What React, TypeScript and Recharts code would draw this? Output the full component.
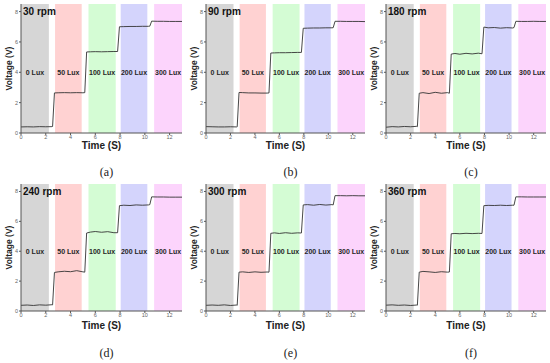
import { ComposedChart, Line, XAxis, YAxis, ReferenceArea } from 'recharts';

// sample times (s) shared by all six traces
const timeS = [
  0, 0.5, 1, 1.5, 2, 2.5, 2.55,
  2.7, 3, 3.5, 4, 4.5, 5, 5.15,
  5.3, 5.6, 6, 6.5, 7, 7.5, 7.8,
  7.95, 8.3, 8.8, 9.3, 9.8, 10.3, 10.4,
  10.55, 11, 11.5, 12, 12.5, 13,
];

// voltage traces, one per rotation speed
const v30 = [
  0.4, 0.41, 0.4, 0.42, 0.41, 0.42, 0.43,
  2.64, 2.65, 2.66, 2.65, 2.66, 2.65, 2.66,
  5.34, 5.35, 5.36, 5.35, 5.36, 5.37, 5.37,
  7.0, 7.01, 7.02, 7.02, 7.03, 7.03, 7.04,
  7.37, 7.36, 7.36, 7.35, 7.35, 7.35,
];
const v90 = [
  0.42, 0.41, 0.4, 0.4, 0.41, 0.4, 0.41,
  2.67, 2.66, 2.64, 2.64, 2.63, 2.63, 2.64,
  5.27, 5.28, 5.29, 5.29, 5.3, 5.31, 5.31,
  6.9, 6.91, 6.92, 6.92, 6.93, 6.93, 6.94,
  7.36, 7.36, 7.35, 7.35, 7.35, 7.34,
];
const v180 = [
  0.38, 0.42, 0.4, 0.43, 0.41, 0.44, 0.42,
  2.62, 2.66, 2.6, 2.68, 2.62, 2.66, 2.62,
  5.2, 5.24, 5.19, 5.25, 5.21, 5.26, 5.22,
  6.98, 6.93, 6.95, 6.91, 6.94, 6.92, 6.95,
  7.36, 7.35, 7.35, 7.36, 7.35, 7.35,
];
const v240 = [
  0.38, 0.4, 0.37, 0.41, 0.39, 0.42, 0.41,
  2.58, 2.62, 2.66, 2.63, 2.7, 2.62, 2.6,
  5.22, 5.28, 5.32, 5.27, 5.31, 5.24, 5.24,
  7.05, 7.08, 7.06, 7.1, 7.08, 7.1, 7.12,
  7.64, 7.63, 7.63, 7.62, 7.62, 7.62,
];
const v300 = [
  0.38, 0.4, 0.38, 0.41, 0.37, 0.4, 0.38,
  2.6, 2.62, 2.58, 2.62, 2.59, 2.61, 2.6,
  5.2, 5.23, 5.19, 5.24, 5.2, 5.23, 5.22,
  7.1, 7.12, 7.08, 7.13, 7.09, 7.12, 7.1,
  7.72, 7.72, 7.71, 7.72, 7.71, 7.71,
];
const v360 = [
  0.39, 0.41, 0.38, 0.4, 0.37, 0.4, 0.39,
  2.6, 2.65, 2.62, 2.58, 2.63, 2.6, 2.61,
  5.17, 5.19, 5.17, 5.2, 5.18, 5.2, 5.19,
  7.05, 7.07, 7.06, 7.08, 7.06, 7.08, 7.08,
  7.64, 7.64, 7.63, 7.63, 7.63, 7.63,
];

// illumination windows
const bandStart = [0, 2.75, 5.45, 8.05, 10.75];
const bandEnd = [2.25, 4.9, 7.65, 10.2, 13];
const bandLabels = ['0 Lux', '50 Lux', '100 Lux', '200 Lux', '300 Lux'];
const bandColors = ['#d6d6d6', '#ffd2d2', '#d4fcd4', '#d4d4fc', '#fcd4fc'];

const xTicks = [0, 2, 4, 6, 8, 10, 12];
const yTicks = [0, 2, 4, 6, 8];

const panelTitles = ['30 rpm', '90 rpm', '180 rpm', '240 rpm', '300 rpm', '360 rpm'];
const panelCaptions = ['(a)', '(b)', '(c)', '(d)', '(e)', '(f)'];
const panelValues = [v30, v90, v180, v240, v300, v360];

// layout of the 3x2 grid (plot-area edges)
const colLeft = [21, 206, 386];
const colRight = [182, 365, 546];
const rowTop = [4, 184];
const rowBottom = [133, 311];
const rowTimeGap = [9, 11];
const rowCaptionY = [166, 347];

const FONT = '"Liberation Sans", Arial, sans-serif';
const AXIS = '#555';

const bandLabel = (text: string) => (props: any) => {
  const vb = props.viewBox;
  if (!vb) return null;
  return (
    <text
      x={vb.x + vb.width / 2}
      y={vb.y + (vb.height * (8.5 - 4)) / 8.5}
      textAnchor="middle"
      dominantBaseline="central"
      fontSize={7}
      fontWeight="bold"
      fill="#262626"
      fontFamily={FONT}
    >
      {text}
    </text>
  );
};

interface PanelProps {
  values: number[];
  title: string;
  caption: string;
  pl: number;
  pr: number;
  pt: number;
  pb: number;
  timeGap: number;
  captionY: number;
}

function Panel({ values, title, caption, pl, pr, pt, pb, timeGap, captionY }: PanelProps) {
  const yAxisW = 22;
  const xAxisH = 47;
  const mTop = 4;
  const mRight = 4;
  const width = pr - pl + yAxisW + mRight;
  const height = pb - pt + mTop + xAxisH;
  const data = timeS.map((t, i) => ({ t, v: values[i] }));
  const tick = { fontSize: 5.5, fill: '#666', fontFamily: FONT };

  return (
    <>
      <div style={{ position: 'absolute', left: pl - yAxisW, top: pt - mTop }}>
        <ComposedChart
          width={width}
          height={height}
          data={data}
          margin={{ top: mTop, right: mRight, left: 0, bottom: 0 }}
          style={{ fontFamily: FONT }}
        >
          <XAxis
            dataKey="t"
            type="number"
            domain={[0, 13]}
            ticks={xTicks}
            height={xAxisH}
            tick={tick}
            tickSize={2}
            tickMargin={0}
            axisLine={{ stroke: AXIS }}
            tickLine={{ stroke: AXIS }}
            label={{
              value: 'Time (S)',
              position: 'insideTop',
              offset: timeGap,
              style: { fontWeight: 'bold', fontSize: 10, fill: '#222', fontFamily: FONT },
            }}
          />
          <XAxis
            xAxisId="top"
            orientation="top"
            type="number"
            domain={[0, 13]}
            height={0}
            tick={false}
            tickLine={false}
            axisLine={{ stroke: AXIS }}
          />
          <YAxis
            type="number"
            domain={[0, 8.5]}
            ticks={yTicks}
            width={yAxisW}
            tick={tick}
            tickSize={2}
            tickMargin={1}
            axisLine={{ stroke: AXIS }}
            tickLine={{ stroke: AXIS }}
            label={{
              value: 'Voltage (V)',
              angle: -90,
              position: 'insideLeft',
              offset: 10,
              style: { textAnchor: 'middle', fontWeight: 'bold', fontSize: 8.5, fill: '#222', fontFamily: FONT },
            }}
          />
          <YAxis
            yAxisId="right"
            orientation="right"
            type="number"
            domain={[0, 8.5]}
            width={0}
            tick={false}
            tickLine={false}
            axisLine={{ stroke: AXIS }}
          />
          {bandStart.map((x1, i) => (
            <ReferenceArea
              key={bandLabels[i]}
              x1={x1}
              x2={bandEnd[i]}
              y1={0}
              y2={8.5}
              fill={bandColors[i]}
              fillOpacity={1}
              stroke="none"
              label={bandLabel(bandLabels[i])}
            />
          ))}
          <Line
            type="linear"
            dataKey="v"
            stroke="#333"
            strokeWidth={0.9}
            dot={false}
            isAnimationActive={false}
          />
        </ComposedChart>
      </div>
      <div
        style={{
          position: 'absolute',
          left: pl + 2,
          top: pt + 3,
          fontFamily: FONT,
          fontWeight: 'bold',
          fontSize: 10,
          color: '#111',
          lineHeight: 1,
        }}
      >
        {title}
      </div>
      <div
        style={{
          position: 'absolute',
          left: (pl + pr) / 2 + 5 - 20,
          width: 40,
          top: captionY,
          textAlign: 'center',
          fontFamily: '"Liberation Serif", "Times New Roman", serif',
          fontSize: 12,
          color: '#222',
          lineHeight: 1,
        }}
      >
        {caption}
      </div>
    </>
  );
}

export default function App() {
  return (
    <div style={{ position: 'absolute', left: 0, top: 0, width: 550, height: 363, background: '#fff' }}>
      {panelValues.map((vals, i) => {
        const col = i % 3;
        const row = Math.floor(i / 3);
        return (
          <Panel
            key={panelTitles[i]}
            values={vals}
            title={panelTitles[i]}
            caption={panelCaptions[i]}
            pl={colLeft[col]}
            pr={colRight[col]}
            pt={rowTop[row]}
            pb={rowBottom[row]}
            timeGap={rowTimeGap[row]}
            captionY={rowCaptionY[row]}
          />
        );
      })}
    </div>
  );
}
